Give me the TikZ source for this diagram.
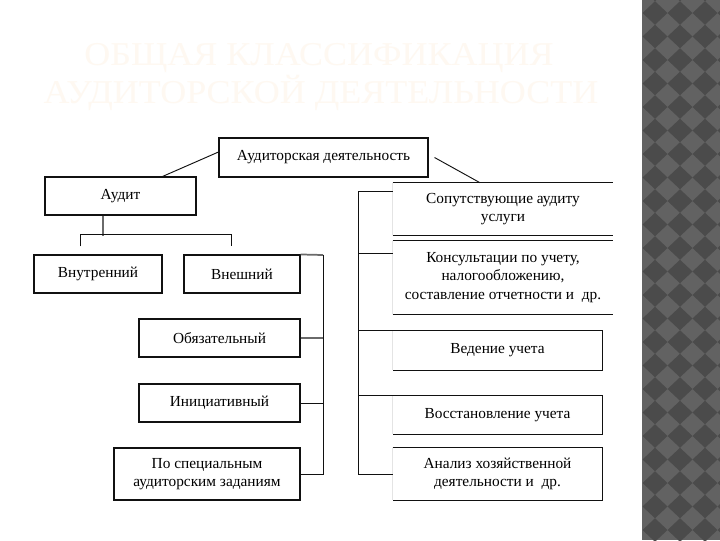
\documentclass[tikz,border=0pt]{standalone}
\usepackage{fontspec}
\setmainfont{Liberation Serif}
\usetikzlibrary{calc}
\definecolor{audink}{HTML}{111111}
\definecolor{audgrey}{HTML}{6A6A6A}
\definecolor{audfaint}{HTML}{E4E4E4}
\definecolor{audtitle}{HTML}{FEF8F1}
\definecolor{audstrip}{HTML}{626262}
\definecolor{audtile}{HTML}{4B4B4B}
\tikzset{
  bx/.style={align=center, font=\fontsize{11.5}{13.8}\selectfont, inner sep=1pt},
  blk/.style={bx, draw=audink, line width=0.8pt},
  opn/.style={bx},
  edge/.style={draw=audink, line width=0.8pt},
  lnk/.style={draw=audink, line width=0.7pt},
  glnk/.style={draw=audgrey, line width=1.3pt},
  faint/.style={draw=audfaint, line width=0.6pt},
  ttl/.style={font=\fontsize{25}{30}\selectfont, text=audtitle, anchor=base, transform shape, xscale=1.08},
}
\begin{document}
\begin{tikzpicture}[x=0.75pt, y=-0.75pt]
  \fill[white] (0,0) rectangle (720,540);
  % side strip
  \fill[audstrip] (642,0) rectangle (720,540);
  \begin{scope}
    \clip (642,0) rectangle (720,540);
    \foreach \i in {0,...,3}
      \foreach \j in {-1,...,23}
        \fill[audtile] (655+25*\i, 13+23.5*\j) +(-12.5,0) -- +(0,-11.75) -- +(12.5,0) -- +(0,11.75) -- cycle;
  \end{scope}
  % title
  \node[ttl] (ttl1) at (319,65) {ОБЩАЯ КЛАССИФИКАЦИЯ};
  \node[ttl] (ttl2) at (321,103) {АУДИТОРСКОЙ ДЕЯТЕЛЬНОСТИ};

  % left branch
  \node[blk, minimum width=156.75pt, minimum height=29.25pt] (ad) at (323.5,157.5) {Аудиторская деятельность};
  \node[blk, minimum width=113.25pt, minimum height=28.5pt] (audit) at (120.5,196) {Аудит};
  \node[blk, minimum width=96pt, minimum height=28.5pt] (vnutr) at (98,274) {Внутренний};
  \node[blk, minimum width=87pt, minimum height=28.5pt] (vnesh) at (242,274) {Внешний};
  \node[blk, minimum width=120.75pt, minimum height=28.5pt] (obyaz) at (219.5,338) {Обязательный};
  \node[blk, minimum width=120.75pt, minimum height=28.5pt] (inic) at (219.5,403) {Инициативный};
  \node[blk, minimum width=139.5pt, minimum height=39pt] (spec) at (207,474) {По специальным\\аудиторским заданиям};

  % right branch
  \node[opn, minimum width=165pt, minimum height=39pt] (sop) at (503,209) {Сопутствующие аудиту\\услуги};
  \node[opn, minimum width=165pt, minimum height=54.75pt] (kons) at (503,277.5) {Консультации по учету,\\налогообложению,\\составление отчетности и~~др.};
  \node[opn, minimum width=156.75pt, minimum height=29.25pt] (ved) at (497.5,350.5) {Ведение учета};
  \node[opn, minimum width=156.75pt, minimum height=28.5pt] (vost) at (497.5,415) {Восстановление учета};
  \node[opn, minimum width=156.75pt, minimum height=39pt] (analiz) at (497.5,474) {Анализ хозяйственной\\деятельности и~~др.};
  \foreach \n in {sop,kons,ved,vost,analiz}
    \draw[faint] (\n.north west) -- (\n.south west);
  \foreach \n in {sop,kons}
    \draw[edge] (\n.north west) -- (\n.north east) (\n.south west) -- (\n.south east);
  \foreach \n in {ved,vost,analiz}
    \draw[edge] (\n.north west) -- (\n.north east) -- (\n.south east) -- (\n.south west);

  % connectors
  \coordinate (ltrunk) at (323,255);
  \coordinate (rtrunk) at (358,191);
  \draw[lnk] ($(audit.north east)+(-34,0)$) -- ($(ad.west)+(0,-5.5)$);
  \draw[lnk] ($(ad.east)+(6,0)$) -- ($(sop.north)+(-23,0)$);
  \draw[glnk] ($(audit.south)+(-17.5,0)$) -- ++(0,20);
  \draw[lnk] ($(vnutr.north)+(-18,-8)$) -- ++(0,-12) -- ($(vnesh.north)+(-11,-20)$) -- ++(0,12);
  \draw[glnk] (vnesh.north east) -- (ltrunk);
  \draw[lnk] (ltrunk) |- (spec.east);
  \draw[glnk] (obyaz.east) -- (obyaz.east -| ltrunk);
  \draw[lnk] (inic.east) -- (inic.east -| ltrunk);
  \draw[lnk] (sop.west |- rtrunk) -- (rtrunk) |- (analiz.west);
  \draw[lnk] ($(kons.north west)+(0,13)$) -- ++(-35,0);
  \draw[lnk] (ved.north west) -- ++(-35,0);
  \draw[lnk] (vost.north west) -- ++(-35,0);
\end{tikzpicture}
\end{document}
